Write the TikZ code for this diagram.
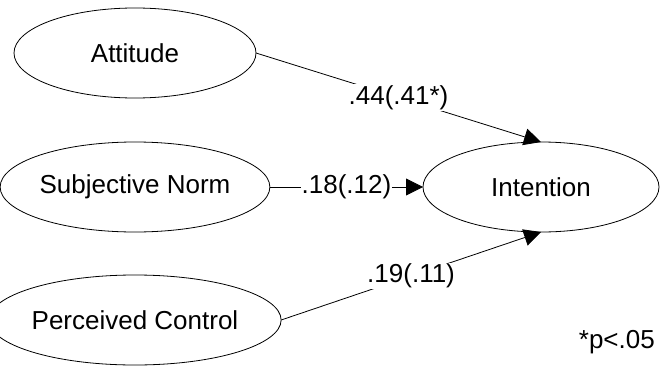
\documentclass[tikz,border=0pt]{standalone}
\usepackage{fontspec}
\setmainfont{Liberation Sans}
\usetikzlibrary{shapes.geometric, arrows.meta}

\begin{document}
\begin{tikzpicture}[x=1pt, y=1pt, font=\fontsize{26}{31}\selectfont]
    \tikzstyle{factor} = [shape=ellipse, draw=black, line width=0.8pt, minimum width=242pt, minimum height=90pt, inner sep=0pt, outer sep=0pt]
    \tikzstyle{effect} = [draw=black, line width=0.8pt, -{Triangle[length=17pt, width=17pt]}]
    \tikzstyle{coef} = [midway, fill=white, inner sep=1pt]
    \useasboundingbox (0, 0) rectangle (660, 365);
    % 四个变量
    \path   (135, 312) node [factor, name=att] {Attitude}
            (135, 178) node [factor, name=sn] {Subjective Norm}
            (135, 45) node [factor, name=pc] {Perceived Control}
            (541, 178) node [factor, name=int, minimum width=236pt] {Intention};

    % 路径系数
    \draw [effect] (att.east) -- node [coef] {.44(.41*)} (int.north);
    \draw [effect] (sn.east) -- node [coef] {.18(.12)} (int.west);
    \draw [effect] (pc.east) -- node [coef] {.19(.11)} (int.south);

    \path   (655, 17) node [anchor=base east, inner sep=0pt, name=note] {*p<.05};
\end{tikzpicture}
\end{document}
